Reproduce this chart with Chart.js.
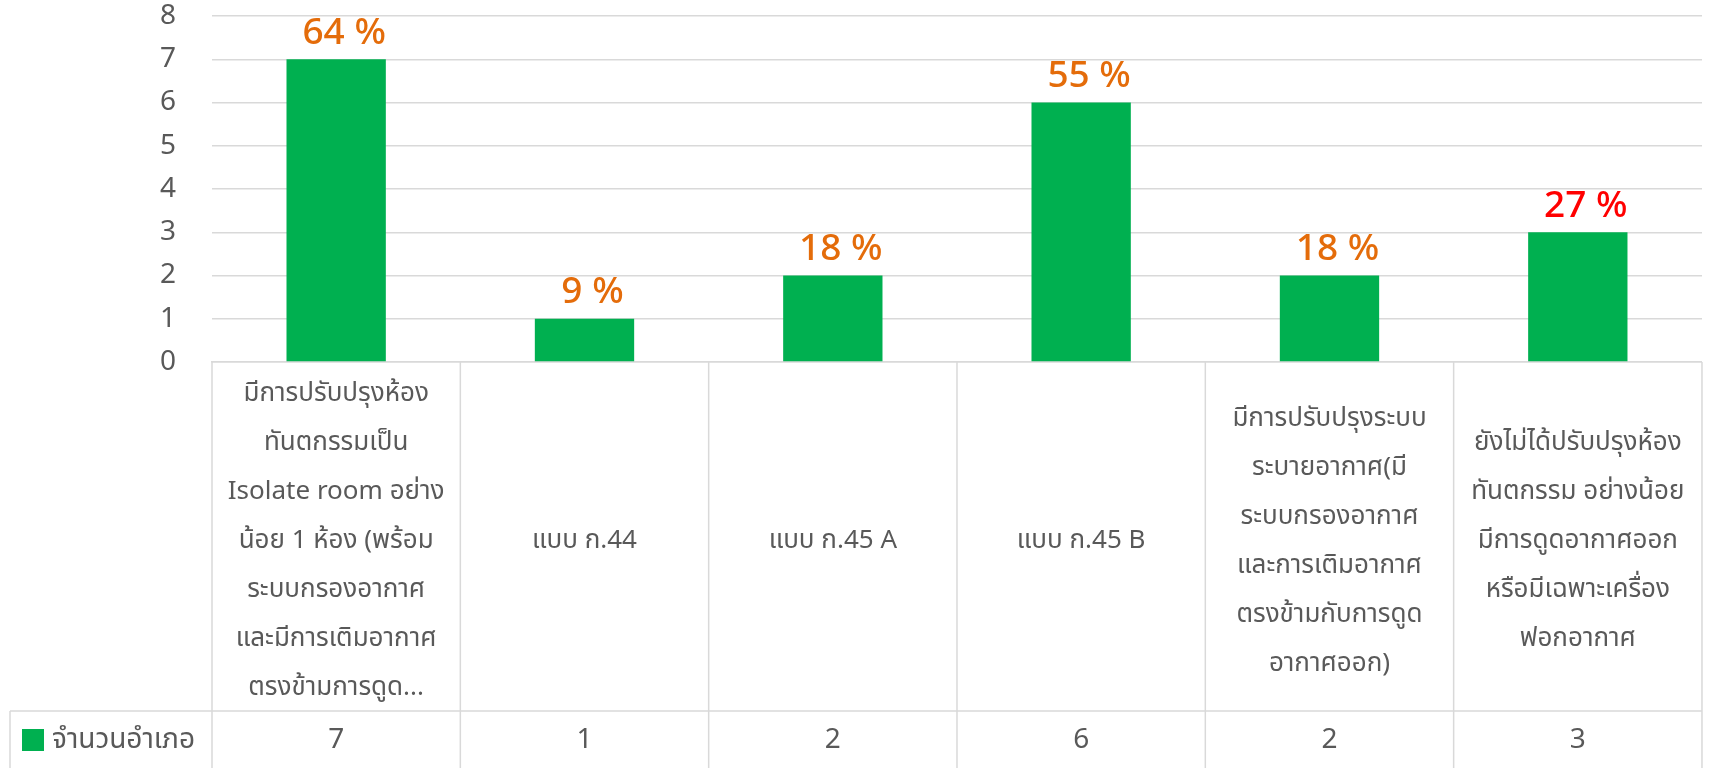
<!DOCTYPE html>
<html>
<head>
<meta charset="utf-8">
<script src="https://cdn.jsdelivr.net/npm/chart.js@4/dist/chart.umd.min.js"></script>
<style>
  html, body { margin: 0; padding: 0; background: #fff; }
</style>
</head>
<body>
<canvas id="chart" width="1709" height="768"></canvas>
<script>
const categories = [
    ['มีการปรับปรุงห้อง', 'ทันตกรรมเป็น', 'Isolate room อย่าง', 'น้อย 1 ห้อง (พร้อม', 'ระบบกรองอากาศ', 'และมีการเติมอากาศ', 'ตรงข้ามการดูด...'],
    ['แบบ ก.44'],
    ['แบบ ก.45 A'],
    ['แบบ ก.45 B'],
    ['มีการปรับปรุงระบบ', 'ระบายอากาศ(มี', 'ระบบกรองอากาศ', 'และการเติมอากาศ', 'ตรงข้ามกับการดูด', 'อากาศออก)'],
    ['ยังไม่ได้ปรับปรุงห้อง', 'ทันตกรรม อย่างน้อย', 'มีการดูดอากาศออก', 'หรือมีเฉพาะเครื่อง', 'ฟอกอากาศ']
];
const seriesName = 'จำนวนอำเภอ';
const counts = [7, 1, 2, 6, 2, 3];
const percentLabels = ['64 %', '9 %', '18 %', '55 %', '18 %', '27 %'];
const percentColors = ['#E46C0A', '#E46C0A', '#E46C0A', '#E46C0A', '#E46C0A', '#FF0000'];

const FONT = '"Noto Sans", "Noto Sans Thai", sans-serif';
const GREEN = '#00B050';
const GRAY_TEXT = '#595959';
const LINE = '#D9D9D9';

// percent labels above the bars
const percentPlugin = {
    id: 'percentLabels',
    afterDatasetsDraw(chart) {
        const ctx = chart.ctx;
        const meta = chart.getDatasetMeta(0);
        ctx.save();
        ctx.font = '500 37px ' + FONT;
        ctx.textAlign = 'center';
        ctx.textBaseline = 'middle';
        meta.data.forEach(function(bar, i) {
            ctx.fillStyle = percentColors[i];
            ctx.fillText(percentLabels[i], bar.x + 8, bar.y - 26);
        });
        ctx.restore();
    }
};

// data table under the axis
const tablePlugin = {
    id: 'dataTable',
    afterDraw(chart) {
        const ctx = chart.ctx;
        const xs = chart.scales.x;
        const area = chart.chartArea;
        const top = xs.top;
        const rowTop = top + 349;
        const bottom = chart.height;
        const n = counts.length;

        const edges = [area.left];
        for (let i = 1; i < n; i++) {
            edges.push((xs.getPixelForValue(i - 1) + xs.getPixelForValue(i)) / 2);
        }
        edges.push(area.right);

        ctx.save();
        ctx.strokeStyle = LINE;
        ctx.lineWidth = 1.5;
        ctx.beginPath();
        edges.forEach(function(x) {
            ctx.moveTo(x, top);
            ctx.lineTo(x, bottom);
        });
        ctx.moveTo(10, rowTop);
        ctx.lineTo(area.right, rowTop);
        ctx.moveTo(10, rowTop);
        ctx.lineTo(10, bottom);
        ctx.stroke();

        const midY = rowTop + 29;
        ctx.fillStyle = GREEN;
        ctx.fillRect(22, midY - 11, 22, 22);

        ctx.fillStyle = GRAY_TEXT;
        ctx.font = '28px ' + FONT;
        ctx.textBaseline = 'middle';
        ctx.textAlign = 'left';
        ctx.fillText(seriesName, 52, midY);
        ctx.textAlign = 'center';
        counts.forEach(function(v, i) {
            ctx.fillText(String(v), xs.getPixelForValue(i), midY);
        });
        ctx.restore();
    }
};

const ctx = document.getElementById('chart').getContext('2d');
const chart = new Chart(ctx, {
    type: 'bar',
    data: {
        labels: categories,
        datasets: [{
            label: seriesName,
            data: counts,
            backgroundColor: GREEN,
            barPercentage: 0.4,
            categoryPercentage: 1
        }]
    },
    options: {
        responsive: false,
        animation: false,
        layout: { padding: { top: 0, right: 7, left: 0, bottom: 0 } },
        plugins: {
            legend: { display: false },
            tooltip: { enabled: false }
        },
        scales: {
            x: {
                grid: { display: false },
                border: { color: LINE, width: 1.5 },
                ticks: {
                    color: GRAY_TEXT,
                    font: { family: FONT, size: 26, lineHeight: 1.885 },
                    maxRotation: 0,
                    autoSkip: false,
                    crossAlign: 'center',
                    padding: 24
                },
                afterFit: function(scale) { scale.height = 406; }
            },
            y: {
                min: 0,
                max: 8,
                ticks: {
                    stepSize: 1,
                    color: GRAY_TEXT,
                    font: { family: FONT, size: 28 },
                    padding: 36
                },
                grid: { color: LINE, lineWidth: 1.5, drawTicks: false },
                border: { display: false },
                afterFit: function(scale) {
                    scale.width = 212;
                    scale.paddingTop = 16;
                    scale.paddingBottom = 0;
                }
            }
        }
    },
    plugins: [percentPlugin, tablePlugin]
});
</script>
</body>
</html>
